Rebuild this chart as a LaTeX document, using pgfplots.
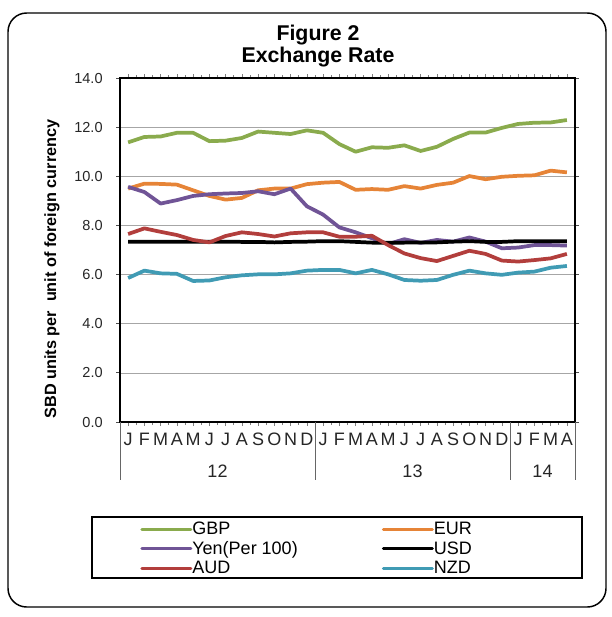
\documentclass[border=0pt]{standalone}
\usepackage{pgfplots}
\pgfplotsset{compat=1.18}
\usepackage{pgfplotstable}
\usepackage{fontspec}
\setmainfont{Liberation Sans}

\definecolor{cgbp}{RGB}{138,171,77}
\definecolor{ceur}{RGB}{230,132,55}
\definecolor{cyen}{RGB}{112,84,150}
\definecolor{cusd}{RGB}{0,0,0}
\definecolor{caud}{RGB}{178,62,60}
\definecolor{cnzd}{RGB}{64,155,180}

% monthly rates, Jan 2012 .. Apr 2014
\pgfplotstableread{
i  gbp   eur   yen  usd  aud  nzd
0  11.38 9.50  9.57 7.34 7.65 5.86
1  11.60 9.70  9.36 7.34 7.88 6.16
2  11.62 9.69  8.89 7.34 7.74 6.05
3  11.77 9.66  9.03 7.34 7.61 6.03
4  11.77 9.43  9.20 7.34 7.41 5.74
5  11.43 9.20  9.27 7.34 7.31 5.76
6  11.45 9.05  9.30 7.34 7.57 5.89
7  11.56 9.12  9.32 7.33 7.72 5.97
8  11.82 9.43  9.39 7.33 7.65 6.01
9  11.77 9.50  9.27 7.31 7.55 6.01
10 11.72 9.50  9.50 7.33 7.68 6.05
11 11.87 9.68  8.78 7.34 7.72 6.16
12 11.77 9.74  8.44 7.36 7.72 6.19
13 11.31 9.77  7.92 7.36 7.54 6.19
14 11.00 9.45  7.72 7.33 7.54 6.05
15 11.18 9.48  7.48 7.30 7.58 6.19
16 11.16 9.45  7.24 7.30 7.20 6.01
17 11.26 9.60  7.44 7.30 6.86 5.78
18 11.03 9.50  7.29 7.31 6.67 5.75
19 11.20 9.65  7.41 7.31 6.55 5.78
20 11.52 9.74  7.34 7.34 6.76 5.99
21 11.78 10.01 7.51 7.36 6.97 6.16
22 11.78 9.88  7.34 7.33 6.84 6.05
23 11.97 9.98  7.07 7.33 6.57 5.99
24 12.13 10.02 7.10 7.36 6.53 6.08
25 12.18 10.04 7.20 7.36 6.59 6.12
26 12.19 10.23 7.20 7.36 6.66 6.28
27 12.29 10.16 7.18 7.36 6.84 6.35
}\rates

\begin{document}
\begin{tikzpicture}
\def\u{0.75pt}
\path[use as bounding box] (0,0) rectangle (611*\u,-617*\u);
\draw[line width=1.1pt, rounded corners=14pt] (8*\u,-13*\u) rectangle (606*\u,-607*\u);
\node[font=\bfseries\fontsize{16}{16.5}\selectfont, align=center] at (318*\u,-46*\u) {Figure 2\\Exchange Rate};
\node[rotate=90, font=\bfseries\fontsize{12.2}{14}\selectfont] at (52*\u,-269*\u) {SBD units per\ \ unit of foreign currency};

\begin{axis}[
  at={(120*\u,-422*\u)}, anchor=south west,
  scale only axis, width=455*\u, height=344*\u,
  xmin=-0.5, xmax=27.5, ymin=0, ymax=14,
  ytick={0,2,...,14},
  yticklabel style={font=\fontsize{10.9}{12}\selectfont, text=black!85, xshift=-6.5pt,
    /pgf/number format/fixed, /pgf/number format/fixed zerofill,
    /pgf/number format/precision=1, /pgf/number format/assume math mode=true},
  xtick={0,...,27},
  xticklabels={J,F,M,A,M,J,J,A,S,O,N,D,J,F,M,A,M,J,J,A,S,O,N,D,J,F,M,A},
  xticklabel style={font=\fontsize{13.5}{15}\selectfont, text=black!85, yshift=-2pt},
  minor x tick num=1,
  tick align=outside,
  major tick length=4*\u,
  minor tick length=3*\u,
  x tick style={gray, line width=0.4pt},
  y tick style={black!70, line width=0.6pt},
  ymajorgrids,
  grid style={gray!70, line width=0.5pt},
  axis line style={black, line width=1.1pt},
  clip mode=individual,
  legend style={at={(axis description cs:0.044,-0.283)}, anchor=north west,
    draw=none, fill=none, legend columns=2,
    font=\fontsize{13.5}{15}\selectfont,
    row sep=0pt, inner sep=0pt,
    nodes={inner sep=0pt, text height=11.5pt, text depth=3.1pt},
    /tikz/every even column/.append style={column sep=84*\u}},
  legend cell align=left,
  legend image code/.code={\draw[#1, line width=2.3pt, line cap=round] (0,0) -- (49*\u,0);},
  every axis plot/.append style={line width=2.8pt, line join=round},
]
\addplot[cgbp, no marks] table[x=i, y=gbp]{\rates};
\addlegendentry{GBP}
\addplot[ceur, no marks] table[x=i, y=eur]{\rates};
\addlegendentry{EUR}
\addplot[cyen, no marks] table[x=i, y=yen]{\rates};
\addlegendentry{Yen(Per 100)}
\addplot[cusd, no marks] table[x=i, y=usd]{\rates};
\addlegendentry{USD}
\addplot[caud, no marks] table[x=i, y=aud]{\rates};
\addlegendentry{AUD}
\addplot[cnzd, no marks] table[x=i, y=nzd]{\rates};
\addlegendentry{NZD}

\foreach \s in {-0.5,11.5,23.5,27.5}{
  \edef\temp{\noexpand\draw[gray!80!black, line width=0.7pt] (axis cs:\s,0) -- ([yshift=-58*\u]axis cs:\s,0);}
  \temp
}
\node[font=\fontsize{13.5}{15}\selectfont, text=black!85] at ([yshift=-49*\u]axis cs:5.5,0) {12};
\node[font=\fontsize{13.5}{15}\selectfont, text=black!85] at ([yshift=-49*\u]axis cs:17.5,0) {13};
\node[font=\fontsize{13.5}{15}\selectfont, text=black!85] at ([yshift=-49*\u]axis cs:25.5,0) {14};
\end{axis}

\draw[line width=1.1pt] (92*\u,-517*\u) rectangle (582*\u,-578*\u);
\end{tikzpicture}
\end{document}
